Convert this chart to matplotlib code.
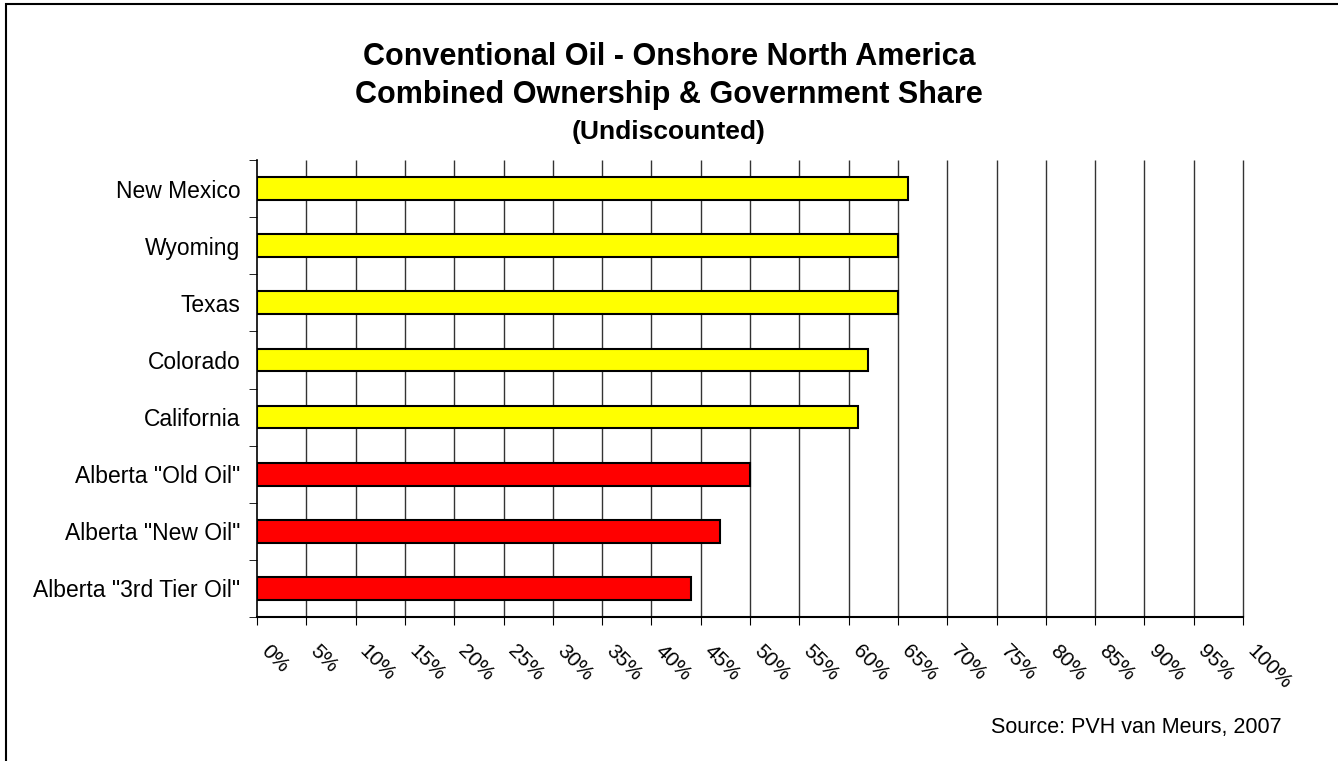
import matplotlib.pyplot as plt
from matplotlib.patches import Rectangle
from matplotlib.transforms import ScaledTranslation

plt.rcParams['font.family'] = ['Liberation Sans', 'DejaVu Sans']

regions = ['New Mexico', 'Wyoming', 'Texas', 'Colorado', 'California',
           'Alberta "Old Oil"', 'Alberta "New Oil"', 'Alberta "3rd Tier Oil"']
share = [66, 65, 65, 62, 61, 50, 47, 44]
colors = ['#ffff00'] * 5 + ['#ff0000'] * 3
xticks = list(range(0, 101, 5))

W, H = 1338, 761
fig = plt.figure(figsize=(W / 100, H / 100), dpi=100)
ax = fig.add_axes([257 / W, 1 - 617 / H, (1243 - 257) / W, (617 - 160) / H])

ypos = list(range(len(regions)))[::-1]
ax.barh(ypos, share, height=0.4, color=colors, edgecolor='black', linewidth=1.5, zorder=3)

ax.set_xlim(0, 100)
ax.set_ylim(-0.5, len(regions) - 0.5)
ax.vlines(xticks[1:], -0.5, len(regions) - 0.5, color='#333333', linewidth=1,
          zorder=1, clip_on=False)

ax.set_yticks(ypos)
ax.set_yticklabels(regions, fontsize=16.5)
ax.set_yticks([i - 0.5 for i in range(len(regions) + 1)], minor=True)
ax.tick_params(axis='y', which='major', length=0, pad=12)
ax.tick_params(axis='y', which='minor', length=6, direction='out')
ax.tick_params(axis='x', length=6, direction='out', pad=14)

ax.set_xticks(xticks)
ax.set_xticklabels([f'{t}%' for t in xticks], rotation=-45, ha='left', va='center',
                   rotation_mode='anchor', fontsize=15)
# nudge the slanted labels a bit right/down like the original
shift = ScaledTranslation(7 / 100, -3 / 100, fig.dpi_scale_trans)
for lbl in ax.get_xticklabels():
    lbl.set_transform(lbl.get_transform() + shift)

for s in ['top', 'right']:
    ax.spines[s].set_visible(False)
ax.spines['left'].set_linewidth(1.2)
ax.spines['bottom'].set_linewidth(1.5)

fig.text(0.5, 1 - 65 / H, 'Conventional Oil - Onshore North America',
         ha='center', va='baseline', fontsize=22, fontweight='bold')
fig.text(0.5, 1 - 103 / H, 'Combined Ownership & Government Share',
         ha='center', va='baseline', fontsize=22, fontweight='bold')
fig.text(0.5, 1 - 139 / H, '(Undiscounted)',
         ha='center', va='baseline', fontsize=19, fontweight='bold')
fig.text(1282 / W, 1 - 733 / H, 'Source: PVH van Meurs, 2007',
         ha='right', va='baseline', fontsize=15.5)

fig.patches.append(Rectangle((6 / W, -0.1), 1.2, 1 - 4 / H + 0.1, transform=fig.transFigure,
                             fill=False, edgecolor='black', linewidth=1.5))

fig.savefig('out.png', dpi=100)
